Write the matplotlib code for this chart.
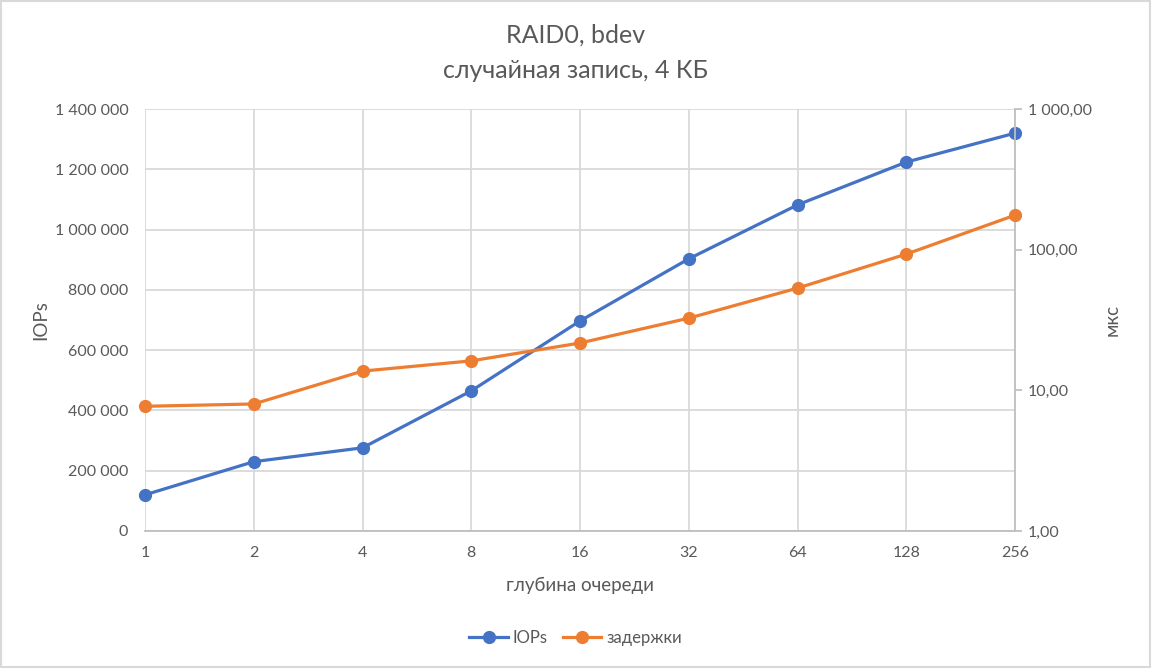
import matplotlib.pyplot as plt
from matplotlib.ticker import FuncFormatter, FixedLocator, NullLocator

plt.rcParams['font.family'] = ['Lato', 'DejaVu Sans']

queue_depth = ['1', '2', '4', '8', '16', '32', '64', '128', '256']
iops = [120000, 230000, 276000, 465000, 697000, 903000, 1082000, 1224000, 1320000]
latency = [7.7, 8.0, 13.7, 16.2, 21.7, 32.6, 53.3, 93.0, 176.0]

BLUE = '#4472C4'
ORANGE = '#ED7D31'
GRID = '#D9D9D9'
TEXT = '#595959'


def space_thousands(v, _pos=None):
    return f'{int(round(v)):,}'.replace(',', ' ')


def log_label(v, _pos=None):
    return f'{v:,.2f}'.replace(',', ' ').replace('.', ',')


fig = plt.figure(figsize=(11.51, 6.68), dpi=100)
ax1 = fig.add_axes([0.126, 0.2051, 0.7559, 0.6317])
ax2 = ax1.twinx()

x = list(range(len(queue_depth)))

l1, = ax1.plot(x, iops, '-o', color=BLUE, lw=2.3, ms=8.5, label='IOPs',
               zorder=3, clip_on=False)
l2, = ax2.plot(x, latency, '-o', color=ORANGE, lw=2.3, ms=8.5, label='задержки',
               zorder=3, clip_on=False)

# Left axis
ax1.set_xlim(0, len(queue_depth) - 1)
ax1.set_ylim(0, 1400000)
ax1.set_yticks(range(0, 1400001, 200000))
ax1.yaxis.set_major_formatter(FuncFormatter(space_thousands))
ax1.set_xticks(x)
ax1.set_xticklabels(queue_depth)
ax1.grid(True, color=GRID, lw=1.3)
ax1.set_axisbelow(True)
ax1.tick_params(axis='both', length=0, colors=TEXT, labelsize=11.5)
ax1.tick_params(axis='y', pad=12)
ax1.tick_params(axis='x', pad=11)
ax1.set_ylabel('IOPs', color=TEXT, fontsize=13.5, labelpad=4)
ax1.set_xlabel('глубина очереди', color=TEXT, fontsize=13.5, labelpad=12)

# Right axis (log)
ax2.set_yscale('log')
ax2.set_ylim(1, 1000)
ax2.yaxis.set_major_locator(FixedLocator([1, 10, 100, 1000]))
ax2.yaxis.set_minor_locator(NullLocator())
ax2.yaxis.set_major_formatter(FuncFormatter(log_label))
ax2.tick_params(axis='y', length=5, width=1.3, color='#BFBFBF', colors=TEXT,
                labelsize=11.5, pad=4)
ax2.set_ylabel('мкс', color=TEXT, fontsize=13.5, labelpad=9)

for ax in (ax1, ax2):
    for s in ax.spines.values():
        s.set_visible(False)
ax1.spines['bottom'].set_visible(True)
ax1.spines['bottom'].set_color('#BFBFBF')
ax1.spines['bottom'].set_linewidth(1.3)
ax2.spines['right'].set_visible(True)
ax2.spines['right'].set_color('#BFBFBF')
ax2.spines['right'].set_linewidth(1.3)

fig.text(0.5, 0.947, 'RAID0, bdev', ha='center', va='center', color=TEXT, fontsize=18)
fig.text(0.5, 0.895, 'случайная запись, 4 КБ', ha='center', va='center', color=TEXT, fontsize=18)

fig.legend(handles=[l1, l2], loc='center', bbox_to_anchor=(0.5, 0.045), ncol=2,
           frameon=False, fontsize=12, labelcolor=TEXT, handlelength=2.3,
           columnspacing=0.9, handletextpad=0.3)

# Chart border
fig.patches.append(plt.Rectangle((0.001, 0.001), 0.998, 0.998, transform=fig.transFigure,
                                 fill=False, edgecolor=GRID, lw=1.5))

fig.savefig('out.png', dpi=100)
